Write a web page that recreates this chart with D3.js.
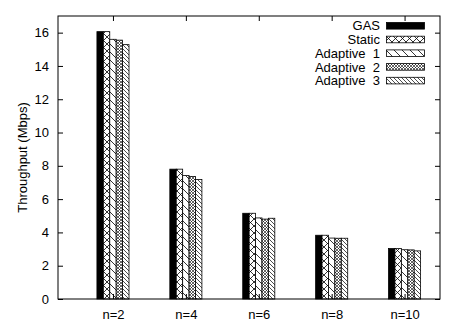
<!DOCTYPE html>
<html>
<head>
<meta charset="utf-8">
<script src="https://cdn.jsdelivr.net/npm/d3@7"></script>
<style>
  body { margin: 0; background: #fff; }
  svg text { font-family: "Liberation Sans", Arial, sans-serif; fill: #000; }
</style>
</head>
<body>
<script>
'use strict';

let WIDTH = 465;
let HEIGHT = 326;

// data
let categories = ['n=2', 'n=4', 'n=6', 'n=8', 'n=10'];
let seriesNames = ['GAS', 'Static', 'Adaptive  1', 'Adaptive  2', 'Adaptive  3'];
let gasValues = [16.06, 7.8, 5.15, 3.83, 3.03];
let staticValues = [16.06, 7.8, 5.15, 3.83, 3.03];
let adaptive1Values = [15.6, 7.42, 4.87, 3.66, 2.96];
let adaptive2Values = [15.55, 7.36, 4.8, 3.65, 2.95];
let adaptive3Values = [15.28, 7.18, 4.85, 3.65, 2.89];
let yTicks = [0, 2, 4, 6, 8, 10, 12, 14, 16];

let seriesValues = [gasValues, staticValues, adaptive1Values, adaptive2Values, adaptive3Values];
let fills = ['#000', 'url(#p-cross)', 'url(#p-diag)', 'url(#p-fine)', 'url(#p-dense)'];

let FONT = 13;
let margin = {left: 58, right: 25, top: 16, bottom: 27};
let plotW = WIDTH - margin.left - margin.right;
let plotH = HEIGHT - margin.top - margin.bottom;

let svg = d3.select('body')
    .append('svg')
    .attr('width', WIDTH)
    .attr('height', HEIGHT);

// fill patterns (gnuplot-like)
let defs = svg.append('defs');

function addPattern(id, size, d, sw) {
    let p = defs.append('pattern')
        .attr('id', id)
        .attr('patternUnits', 'userSpaceOnUse')
        .attr('width', size).attr('height', size);
    p.append('rect').attr('width', size).attr('height', size).attr('fill', '#fff');
    p.append('path').attr('d', d).attr('stroke', '#000').attr('stroke-width', sw);
}
addPattern('p-cross', 7, 'M0,0L7,7M7,0L0,7', 0.8);
addPattern('p-diag', 8, 'M0,0L8,8M-4,4L0,8M4,-4L12,4', 0.8);
addPattern('p-fine', 3, 'M0,0L3,3M3,0L0,3', 0.6);
addPattern('p-dense', 4, 'M0,0L4,4M-2,2L0,4M2,-2L6,2', 0.7);

let g = svg.append('g')
    .attr('transform', 'translate(' + margin.left + ',' + margin.top + ')');

// category index scale
let x = d3.scaleLinear()
    .domain([-0.754, 4.486])
    .range([0, plotW]);

let y = d3.scaleLinear()
    .domain([0, 17])
    .range([plotH, 0]);

let groupW = 0.44;
let barW = x(groupW / seriesNames.length) - x(0);

// bars
seriesValues.forEach((vals, s) => {
    g.selectAll('.bar-' + s)
        .data(vals)
        .enter()
        .append('rect')
        .attr('x', (d, i) => x(i - groupW / 2) + s * barW)
        .attr('y', d => y(d))
        .attr('width', barW)
        .attr('height', d => y(0) - y(d))
        .attr('fill', fills[s])
        .attr('stroke', '#000')
        .attr('stroke-width', 0.8);
});

// frame
g.append('rect')
    .attr('width', plotW)
    .attr('height', plotH)
    .attr('fill', 'none')
    .attr('stroke', '#000')
    .attr('stroke-width', 1);

// y axis, ticks inside and mirrored on the right
let yAxis = g.append('g')
    .call(d3.axisLeft(y).tickValues(yTicks).tickSize(-5).tickPadding(9));
yAxis.select('.domain').remove();
yAxis.selectAll('text').attr('font-size', FONT);

let yAxisR = g.append('g')
    .attr('transform', 'translate(' + plotW + ',0)')
    .call(d3.axisRight(y).tickValues(yTicks).tickSize(-5).tickFormat(''));
yAxisR.select('.domain').remove();

// x axis labels and mirrored top ticks
let xAxis = g.append('g')
    .attr('transform', 'translate(0,' + plotH + ')')
    .call(d3.axisBottom(x).tickValues(d3.range(categories.length))
        .tickSize(-5).tickPadding(11).tickFormat(i => categories[i]));
xAxis.select('.domain').remove();
xAxis.selectAll('text').attr('font-size', FONT);

let xAxisT = g.append('g')
    .call(d3.axisTop(x).tickValues(d3.range(categories.length))
        .tickSize(-5).tickFormat(''));
xAxisT.select('.domain').remove();

svg.selectAll('.tick line').attr('stroke', '#000');

// y label
svg.append('text')
    .attr('transform', 'translate(22,' + (margin.top + plotH / 2) + ') rotate(-90)')
    .attr('text-anchor', 'middle')
    .attr('dy', '0.35em')
    .attr('font-size', FONT)
    .text('Throughput (Mbps)');

// legend
let legend = svg.append('g');
seriesNames.forEach((name, s) => {
    let ly = 25.8 + s * 13.7;
    legend.append('text')
        .attr('x', 380)
        .attr('y', ly)
        .attr('dy', '0.36em')
        .attr('text-anchor', 'end')
        .attr('font-size', FONT)
        .style('white-space', 'pre')
        .text(name);
    legend.append('rect')
        .attr('x', 386.5)
        .attr('y', ly - 3.3)
        .attr('width', 38)
        .attr('height', 6.6)
        .attr('fill', fills[s])
        .attr('stroke', '#000')
        .attr('stroke-width', 0.8);
});
</script>
</body>
</html>
